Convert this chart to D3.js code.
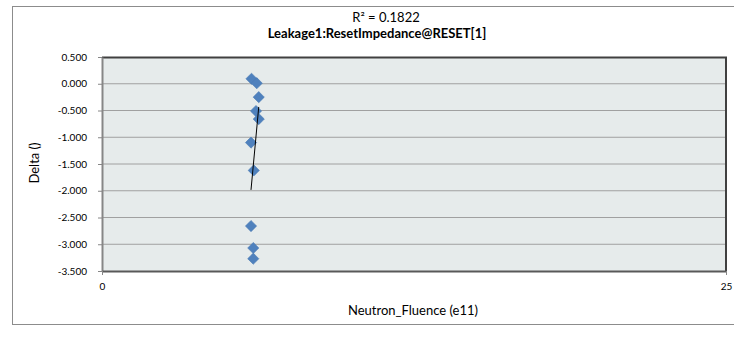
<!DOCTYPE html>
<html>
<head>
<meta charset="utf-8">
<script src="https://cdn.jsdelivr.net/npm/d3@7"></script>
<style>
  body { margin: 0; background: #fff; }
  text { font-family: Lato, "Open Sans", sans-serif; fill: #000; }
</style>
</head>
<body>
<script>
// values
const fluence = [5.99, 6.20, 6.28, 6.17, 6.28, 5.97, 6.08, 5.97, 6.06, 6.06];
const delta = [0.093, 0.010, -0.250, -0.510, -0.660, -1.100, -1.620, -2.660, -3.070, -3.270];
const yTicks = [0.5, 0, -0.5, -1, -1.5, -2, -2.5, -3, -3.5];
const xTicks = [0, 25];
const rSquaredLabel = "R² = 0.1822";
const title = "Leakage1:ResetImpedance@RESET[1]";

const margin = {top: 57, right: 8, bottom: 68, left: 102};
const width = 734 - margin.left - margin.right,
    height = 339 - margin.top - margin.bottom;

const root = d3.select('body').append('svg')
    .attr('width', 734)
    .attr('height', 339);

// chart area frame
root.append('rect')
    .attr('x', 12.5).attr('y', 6.5)
    .attr('width', 740).attr('height', 318)
    .attr('fill', '#fff')
    .attr('stroke', '#8c8c8c');

const svg = root.append('g')
    .attr('transform', `translate(${margin.left}, ${margin.top})`);

const scaleX = d3.scaleLinear().domain([0, 25]).range([0, width]);
const scaleY = d3.scaleLinear().domain([-3.5, 0.5]).range([height, 0]);

svg.append('rect')
    .attr('width', width).attr('height', height)
    .attr('fill', '#e6ebeb');

// gridlines
svg.append('g')
    .selectAll('line')
    .data(yTicks.slice(1, -1))
    .enter()
    .append('line')
    .attr('x1', 0).attr('x2', width)
    .attr('y1', d => scaleY(d)).attr('y2', d => scaleY(d))
    .attr('stroke', '#a0a0a0')
    .attr('stroke-width', 1);

// plot border
svg.append('path')
    .attr('d', `M0,0.5H${width}V${height}`)
    .attr('fill', 'none')
    .attr('stroke', '#404040')
    .attr('stroke-width', 2);

const yAxis = d3.axisLeft(scaleY)
    .tickValues(yTicks)
    .tickSize(4)
    .tickSizeOuter(0)
    .tickFormat(d3.format('.3f'));

const xAxis = d3.axisBottom(scaleX)
    .tickValues(xTicks)
    .tickSize(4)
    .tickSizeOuter(0)
    .tickFormat(d3.format('d'));

const yAxisGroup = svg.append('g')
    .attr('class', 'axis y-axis')
    .call(yAxis);
yAxisGroup.select('.domain').attr('stroke', '#868686').attr('stroke-width', 2);
yAxisGroup.selectAll('.tick line').attr('stroke', '#868686');
yAxisGroup.selectAll('.tick text')
    .attr('x', -15)
    .style('font-size', '10px')
    .text(d => d.toFixed(3));

const xAxisGroup = svg.append('g')
    .attr('class', 'axis x-axis')
    .attr('transform', `translate(0, ${height})`)
    .call(xAxis);
xAxisGroup.select('.domain').attr('stroke', '#595959').attr('stroke-width', 2);
xAxisGroup.selectAll('.tick line').attr('stroke', '#868686');
xAxisGroup.selectAll('.tick text')
    .attr('y', 12)
    .style('font-size', '10px');

// points
svg.append('g')
    .selectAll('path')
    .data(fluence.map((x, i) => ({x: x, y: delta[i]})))
    .enter()
    .append('path')
    .attr('d', d3.symbol().type(d3.symbolDiamond2).size(80))
    .attr('transform', d => `translate(${scaleX(d.x)}, ${scaleY(d.y)})`)
    .attr('fill', '#4f81bd')
    .attr('stroke', '#4a7ab4')
    .attr('stroke-width', 0.6);

// linear trendline, least squares over the points
const mx = d3.mean(fluence), my = d3.mean(delta);
const slope = d3.sum(fluence, (x, i) => (x - mx) * (delta[i] - my)) /
    d3.sum(fluence, x => (x - mx) * (x - mx));
const icpt = my - slope * mx;
const trend = d3.extent(fluence).map(x => [x, icpt + slope * x]);

svg.append('path')
    .datum(trend)
    .attr('d', d3.line().x(d => scaleX(d[0])).y(d => scaleY(d[1])))
    .attr('fill', 'none')
    .attr('stroke', '#000')
    .attr('stroke-width', 1);

// titles
root.append('text')
    .attr('x', 386).attr('y', 22)
    .attr('text-anchor', 'middle')
    .style('font-size', '13px')
    .text(rSquaredLabel);

root.append('text')
    .attr('x', 377).attr('y', 38)
    .attr('text-anchor', 'middle')
    .style('font-size', '13px')
    .style('font-weight', 'bold')
    .text(title);

root.append('text')
    .attr('transform', 'translate(39, 163) rotate(-90)')
    .attr('text-anchor', 'middle')
    .style('font-size', '13px')
    .text('Delta ()');

root.append('text')
    .attr('x', 413).attr('y', 315)
    .attr('text-anchor', 'middle')
    .style('font-size', '13px')
    .text('Neutron_Fluence (e11)');
</script>
</body>
</html>
